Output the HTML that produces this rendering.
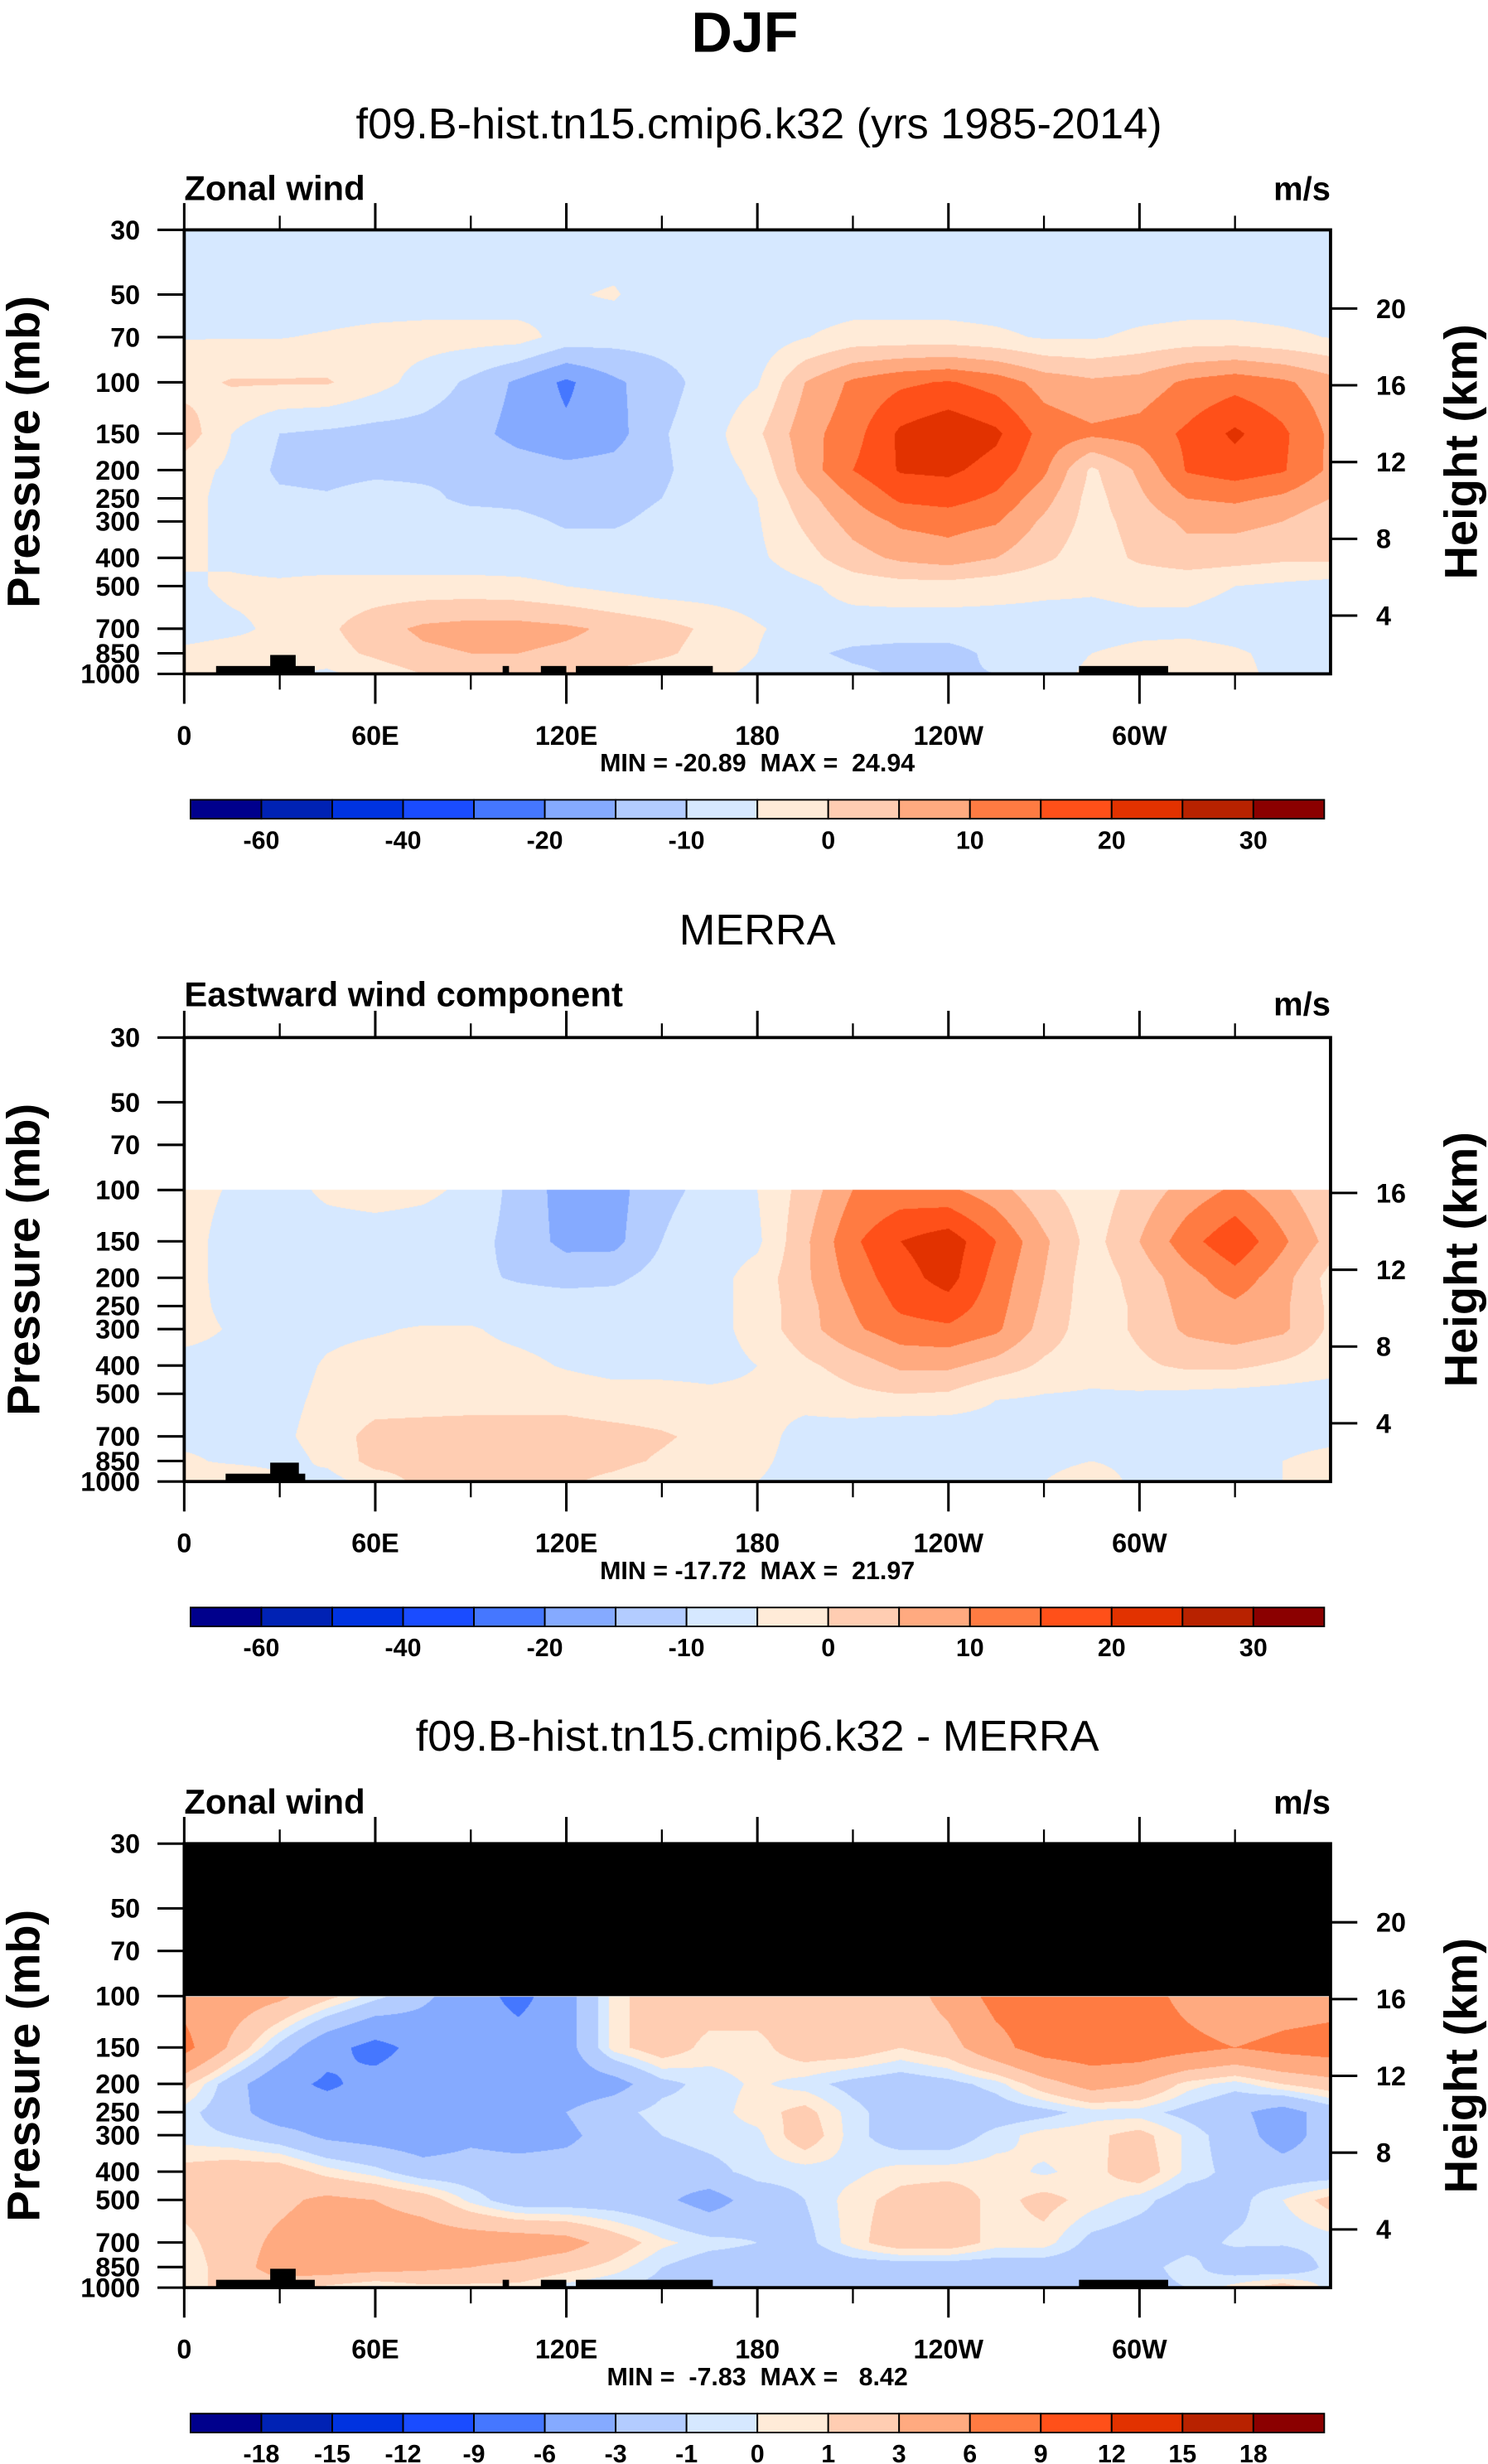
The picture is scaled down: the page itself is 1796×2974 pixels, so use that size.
<!DOCTYPE html>
<html><head><meta charset="utf-8"><style>
html,body{margin:0;padding:0;background:#fff;}
#wrap{position:relative;width:1796px;height:2974px;overflow:hidden;background:#fff;}
canvas{position:absolute;left:0;top:0;}
svg{position:absolute;left:0;top:0;}
text{font-family:"Liberation Sans",Arial,sans-serif;fill:#000;white-space:pre;}
</style></head><body>
<div id="wrap">
<canvas id="cv" width="1796" height="2974"></canvas>
<svg id="sv" width="1796" height="2974" viewBox="0 0 945 1565" preserveAspectRatio="none">
<text x="473" y="33" font-size="36" font-weight="bold" text-anchor="middle">DJF</text>
<text x="482" y="88" font-size="27.5" text-anchor="middle">f09.B-hist.tn15.cmip6.k32 (yrs 1985-2014)</text>
<text x="481" y="600" font-size="27.5" text-anchor="middle">MERRA</text>
<text x="481" y="1112" font-size="27.5" text-anchor="middle">f09.B-hist.tn15.cmip6.k32 - MERRA</text>
<g id="overlay"></g>
</svg>
</div>
<script>
// ---------- data ----------
const lons = [0,15,30,45,60,75,90,105,120,135,150,165,180,195,210,225,240,255,270,285,300,315,330,345,360];
const pLevels1 = [30,50,70,100,150,200,250,300,400,500,700,850,1000];
const pLevels2 = [100,150,200,250,300,400,500,700,850,1000];
const levelsFull = [-60,-50,-40,-30,-20,-15,-10,-5,0,5,10,15,20,25,30];
const levelsDiff = [-18,-15,-12,-9,-6,-3,-1,0,1,3,6,9,12,15,18];
const cbLabelsFull = ["","-60","","-40","","-20","","-10","","0","","10","","20","","30",""];
const cbLabelsDiff = ["","-18","-15","-12","-9","-6","-3","-1","0","1","3","6","9","12","15","18",""];
const colors = ["#00008c","#0022b4","#0033e0","#1a4cff","#4577ff","#85aaff","#b3ccff","#d6e8ff","#ffebd8","#ffcdb2","#ffaa80","#ff7b42","#ff5019","#e23200","#b82200","#8b0000"];
const pressureTicks = [30,50,70,100,150,200,250,300,400,500,700,850,1000];
const lonMajor = [0,60,120,180,240,300];
const lonMajorLabels = ["0","60E","120E","180","120W","60W"];
const lonMinor = [30,90,150,210,270,330];
const topoRanges = [[10,41,0],[27,35,1],[100,102,0],[112,120,0],[123,166,0],[281,309,0]];
const topoRanges2 = [[13,38,0],[27,36,1]];

// model zonal wind (m/s), rows = pLevels1
const uModel = [
[-8,-8,-8,-8,-8,-8,-8,-8,-8,-8,-8,-8,-8,-8,-8,-8,-8,-8,-8,-8,-8,-8,-8,-8,-8],
[-8,-8,-8,-8,-8,-8,-8,-8,-5.5,-4.5,-8,-8,-8,-8,-8,-8,-8,-8,-8,-8,-8,-8,-8,-8,-8],
[-5.2,-5.2,-5.2,-4.5,-3.5,-3,-3,-3,-7,-8,-8,-8,-8,-5.2,-3,-3,-3,-4,-5.5,-5.5,-4,-3,-3,-4,-5.2],
[-2,0.5,0.5,0.5,-3,-7,-11,-16,-21,-16,-12,-8,-5.5,5,11,14,15.5,13,8,6,7,11,13,11,7],
[3,-5,-10,-11,-12,-12,-13,-17,-19,-17,-10.5,-7,-1,8,13,21,24,21,13,11,12,16,21,16,9],
[-3,-6,-11,-11.5,-11,-11,-10.5,-12,-13.5,-13,-11,-7,-4,7,15,20.5,21,18,11,-1,6,15.5,17.5,15.5,9],
[-3,-7,-9,-9.5,-8,-9,-11,-11,-12,-11.5,-10,-7,-5,3,10,16,17,14,7,-2,4,10,11,9,5],
[-3,-7,-8,-8,-8,-8,-8,-9,-10.5,-10.5,-9,-7,-5.5,1,7,11,12,10.5,4,-2,2,6,6.5,5,1],
[-4,-6,-7.5,-8,-8,-8,-8,-8,-8,-8,-8,-8,-6,-2,3,6,7.5,5,1,-3,1,3,2,1,1],
[-6,-4,-4,-3,-3,-3,-3,-3.5,-5,-6.5,-8,-8,-8,-6,-3,-2,-2,-3,-4,-4.5,-4,-4,-5,-6,-7],
[-7,-6,-4,-1,3,6,7,7,6,4,2,-1,-4.5,-7,-7.5,-8,-8,-7.5,-7,-6.5,-6,-6,-6.5,-7,-7],
[-4,-3,-4,-2,1,4,5,5,4,3,1,-2,-5,-9,-11,-11.5,-11.5,-9,-7,-5,-4,-3.5,-4.5,-6,-7],
[-3,-3,-4,-6,-3,0,1,1,0,-1,-3,-4,-6,-7,-9,-10.5,-10.5,-10,-7,-4,-4,-4,-4,-6,-7]
];
// MERRA eastward wind (m/s), rows = pLevels2
const uMerra = [
[-3,-5.5,-7,-4,-3,-4,-6,-12,-17,-17,-11,-9,-5,2,10,12,11,7,1,-3,2,7,11,6,0],
[-3,-7,-7.5,-7.5,-7.5,-7.5,-8,-12,-16.5,-16.5,-10,-7.5,-6,4,14,20,23,15,6,-2,5,13,19,11,3],
[-3,-7,-8,-8,-8,-8,-9,-10.5,-11.5,-11,-8,-7,-3,4,12,18,22,13,5,-3,2,8,13,7,-2],
[-3,-6.5,-7,-7.5,-7.5,-7.5,-7.5,-7.5,-7.5,-7.5,-7.5,-7,-3,3,10,16,18,12,4,-3,1,7,9,6,-1],
[-3,-5.5,-7,-6,-5.5,-4.5,-4.5,-6.5,-7.5,-7.5,-7,-7,-3,3,9,13,14,11,3,-3,1,6,8,6,-1],
[-7,-7,-7,-4.5,-3,-3,-3,-3.5,-5.5,-7,-7,-7,-5,-1,2,6,6,3,-1,-3,-1,1,1,-1,-3],
[-7,-7,-6.5,-4,-3,-3,-3,-2.5,-2,-3,-3,-4,-4,-3,-1,0,-0.5,-4.5,-5,-5.5,-5.5,-6,-6.5,-7,-7.5],
[-6.5,-6.5,-6,-3,2,2.5,3,2.5,2,1.5,0.5,-1,-3,-7,-8,-9.5,-9.5,-8,-7,-5,-7,-7,-7,-7,-6.5],
[-4,-6,-7,-4,2,2,2.5,2,1.5,1,-0.5,-2,-4,-7,-7.5,-8.5,-8,-7.5,-6,-5,-6,-7,-6.5,-5,-3],
[-3,1,-3,-7,-3,1.5,1.5,1.5,0.5,-1,-3,-4,-5,-7,-7,-7,-7,-7,-5,-3,-6,-7,-7,-5,-3]
];
// difference (m/s), rows = pLevels2
const uDiff = [
[5,4.5,3.5,1.5,-0.5,-2.5,-4.5,-7,-4,0.5,2,2,2,2,1,1.5,4,7,7.5,8,7.5,5,3,4,4.5],
[7,2.5,-1.5,-5,-7,-5,-4.5,-4.5,-4,0.5,2,0.5,0.5,2,2,1,2,5,7.5,8,8,7,6,7,7.5],
[1.5,-2,-5,-6.5,-5,-4.5,-4.5,-4.5,-4.5,-4,-1.5,-0.5,0.2,-0.5,-1.5,-2,-1.5,-0.5,2,4,3,0.5,-0.5,1,2],
[-0.5,-2,-4.5,-4.5,-4.5,-4.5,-4.5,-4.5,-3,-1.5,-0.5,-0.5,0.5,1.5,-0.5,-2,-2.5,-2,-1.5,-0.5,-0.5,-1.5,-2.5,-4,-2],
[-0.5,-1,-2,-3.5,-4,-4.5,-3.5,-4,-3.5,-2,-1,-0.5,-0.3,2,-0.5,-2,-2,-0.5,0.5,0.7,1.5,-0.2,-2,-4,-2],
[1.5,2,2,0.5,-0.5,-2,-2,-2,-2,-2,-2,-1.5,-0.5,-0.5,-0.3,0.5,0.5,0.5,-0.2,0.5,2,-0.3,-1.5,-2,-2],
[1.5,2,2.5,3.5,3,2,-0.3,-2,-2,-2,-2.5,-4,-2,-1,0.5,1.5,2,0.5,1.5,0.5,-0.5,-2,-1.5,0,1.5],
[0.5,2,3.5,4.5,4.5,4.5,4.5,4.5,4,2,0.3,-0.5,-1,-1.5,0.5,2,2,0.5,0.5,-1.5,-2,-1.5,-0.8,-0.8,-0.5],
[0,2,4,4.5,4,3.5,3,2.5,1.5,0.5,-1,-2,-2,-2.5,-2,-2,-2,-2,-2,-2,-1.5,-0.5,-2,-2.5,-0.5],
[0.5,1.5,2,0.5,-0.5,0.5,0.5,0.5,-0.5,-1,-1.5,-2,-2,-2,-2,-2,-2,-2,-2,-1.5,-1.5,-1,0.5,2,-0.5]
];

// ---------- layout ----------
const S = 1796/945;
const PX0 = 117, PW = 728, PH = 282;
const panels = [
  {off:0, data:uModel, plev:pLevels1, levels:levelsFull, labels:cbLabelsFull, left:"Zonal wind", mm:"MIN = -20.89  MAX =  24.94", heights:[20,16,12,8,4], mask:null, topo:topoRanges},
  {off:513, data:uMerra, plev:pLevels2, levels:levelsFull, labels:cbLabelsFull, left:"Eastward wind component", mm:"MIN = -17.72  MAX =  21.97", heights:[16,12,8,4], mask:"none", topo:topoRanges2},
  {off:1025, data:uDiff, plev:pLevels2, levels:levelsDiff, labels:cbLabelsDiff, left:"Zonal wind", mm:"MIN =  -7.83  MAX =   8.42", heights:[20,16,12,8,4], mask:"black", topo:topoRanges}
];
const LR = Math.log10(1000/30);
function xOf(lon){ return PX0 + PW*lon/360; }
function yOf(p, off){ return 146 + off + PH*Math.log10(p/30)/LR; }
function yOfZ(z, off){ return 146 + off + 293.75 - 12.19*z; }

function hexRGB(h){ return [parseInt(h.slice(1,3),16),parseInt(h.slice(3,5),16),parseInt(h.slice(5,7),16)]; }
const rgb = colors.map(hexRGB);

// ---------- contour rasters ----------
const ctx = document.getElementById('cv').getContext('2d');
panels.forEach(pn => {
  const x0 = Math.round(PX0*S), x1 = Math.round((PX0+PW)*S);
  const y0 = Math.round((146+pn.off)*S), y1 = Math.round((146+pn.off+PH)*S);
  const w = x1-x0, h = y1-y0;
  const img = ctx.createImageData(w, h);
  const lp = pn.plev.map(p=>Math.log10(p));
  for (let py=0; py<h; py++){
    const yd = (y0+py+0.5)/S - (146+pn.off);
    const logp = Math.log10(30) + yd/PH*LR;
    if (logp < lp[0]) continue;
    let r = 0; while (r < lp.length-2 && logp > lp[r+1]) r++;
    const fy = Math.min(1, Math.max(0,(logp-lp[r])/(lp[r+1]-lp[r])));
    for (let px=0; px<w; px++){
      const lon = ((px+0.5)/w)*360;
      let c = Math.min(lons.length-2, Math.floor(lon/15));
      const fx = (lon - lons[c])/(lons[c+1]-lons[c]);
      const d = pn.data;
      const v = (d[r][c]*(1-fx)+d[r][c+1]*fx)*(1-fy) + (d[r+1][c]*(1-fx)+d[r+1][c+1]*fx)*fy;
      let k = 0; while (k < pn.levels.length && v >= pn.levels[k]) k++;
      const col = rgb[k]; const i = (py*w+px)*4;
      img.data[i]=col[0]; img.data[i+1]=col[1]; img.data[i+2]=col[2]; img.data[i+3]=255;
    }
  }
  ctx.putImageData(img, x0, y0);
});

// ---------- overlay ----------
const NS = "http://www.w3.org/2000/svg";
const ov = document.getElementById('overlay');
function mk(tag, attrs, parent){
  const e = document.createElementNS(NS, tag);
  for (const k in attrs) e.setAttribute(k, attrs[k]);
  (parent||ov).appendChild(e); return e;
}
panels.forEach((pn, idx) => {
  const o = pn.off, top = 146+o, bot = 428+o;
  const g = mk('g', {});
  
  
  if (pn.mask === "black"){
    const m = mk('rect', {x:PX0, y:top, width:PW, height:yOf(100,o)-top, fill:'#000'}, g);
    
    
  }
  pn.topo.forEach(t => {
    const yy = t[2] ? bot-12 : bot-5;
    const r = mk('rect', {x:xOf(t[0]), y:yy, width:xOf(t[1])-xOf(t[0]), height:bot-yy, fill:'#000'}, g);
    
    
  });
  const fr = mk('rect', {x:PX0, y:top, width:PW, height:PH, fill:'none', stroke:'#000', 'stroke-width':2}, g);
  
  
  lonMajor.forEach((lon, i) => {
    const x = xOf(lon);
    const t1 = mk('line', {x1:x, x2:x, y1:top-17, y2:top, stroke:'#000', 'stroke-width':1.6}, g);
    
    
    const t2 = mk('line', {x1:x, x2:x, y1:bot, y2:bot+19, stroke:'#000', 'stroke-width':1.6}, g);
    
    
    const tl = mk('text', {x:x, y:bot+45, 'font-size':17, 'font-weight':'bold', 'text-anchor':'middle'}, g);
    tl.textContent = lonMajorLabels[i];
    
    
  });
  lonMinor.forEach(lon => {
    const x = xOf(lon);
    const a = mk('line', {x1:x, x2:x, y1:top-9, y2:top, stroke:'#000', 'stroke-width':1.2}, g);
    
    
    const b = mk('line', {x1:x, x2:x, y1:bot, y2:bot+10, stroke:'#000', 'stroke-width':1.2}, g);
    
    
  });
  pressureTicks.forEach(p => {
    const y = yOf(p, o);
    const a = mk('line', {x1:PX0-17, x2:PX0, y1:y, y2:y, stroke:'#000', 'stroke-width':1.6}, g);
    
    
    const t = mk('text', {x:89, y:y+6, 'font-size':17, 'font-weight':'bold', 'text-anchor':'end'}, g);
    t.textContent = String(p);
    
    
  });
  pn.heights.forEach(z => {
    const y = yOfZ(z, o);
    const a = mk('line', {x1:PX0+PW, x2:PX0+PW+17, y1:y, y2:y, stroke:'#000', 'stroke-width':1.6}, g);
    
    
    const t = mk('text', {x:874, y:y+6, 'font-size':17, 'font-weight':'bold'}, g);
    t.textContent = String(z);
    
    
  });
  const yt = mk('text', {x:0, y:0, 'font-size':29.5, 'font-weight':'bold', 'text-anchor':'middle', transform:'translate(25,'+(287+o)+') rotate(-90)'}, g);
  yt.textContent = 'Pressure (mb)';
  
  
  const yt2 = mk('text', {x:0, y:0, 'font-size':29.5, 'font-weight':'bold', 'text-anchor':'middle', transform:'translate(938,'+(287+o)+') rotate(-90)'}, g);
  yt2.textContent = 'Height (km)';
  
  
  const lt = mk('text', {x:117, y:127+o+(idx===1?-1:0), 'font-size':22, 'font-weight':'bold'}, g);
  lt.textContent = pn.left;
  
  
  const ut = mk('text', {x:845, y:127+o+(idx===1?5:0), 'font-size':21, 'font-weight':'bold', 'text-anchor':'end'}, g);
  ut.textContent = 'm/s';
  
  
  const mmT = mk('text', {x:481, y:490+o, 'font-size':16, 'font-weight':'bold', 'text-anchor':'middle'}, g);
  mmT.textContent = pn.mm;
  
  
  const cb = mk('g', {}, g);
  
  
  colors.forEach((c, k) => {
    const r = mk('rect', {x:121+45*k, y:508+o, width:45, height:12, fill:c, stroke:'#000', 'stroke-width':1}, cb);
    
    
  });
  pn.labels.forEach((lab, k) => {
    if (!lab) return;
    const t = mk('text', {x:121+45*k, y:539+o, 'font-size':16, 'font-weight':'bold', 'text-anchor':'middle'}, cb);
    t.textContent = lab;
    
    
  });
});
</script>
</body></html>
